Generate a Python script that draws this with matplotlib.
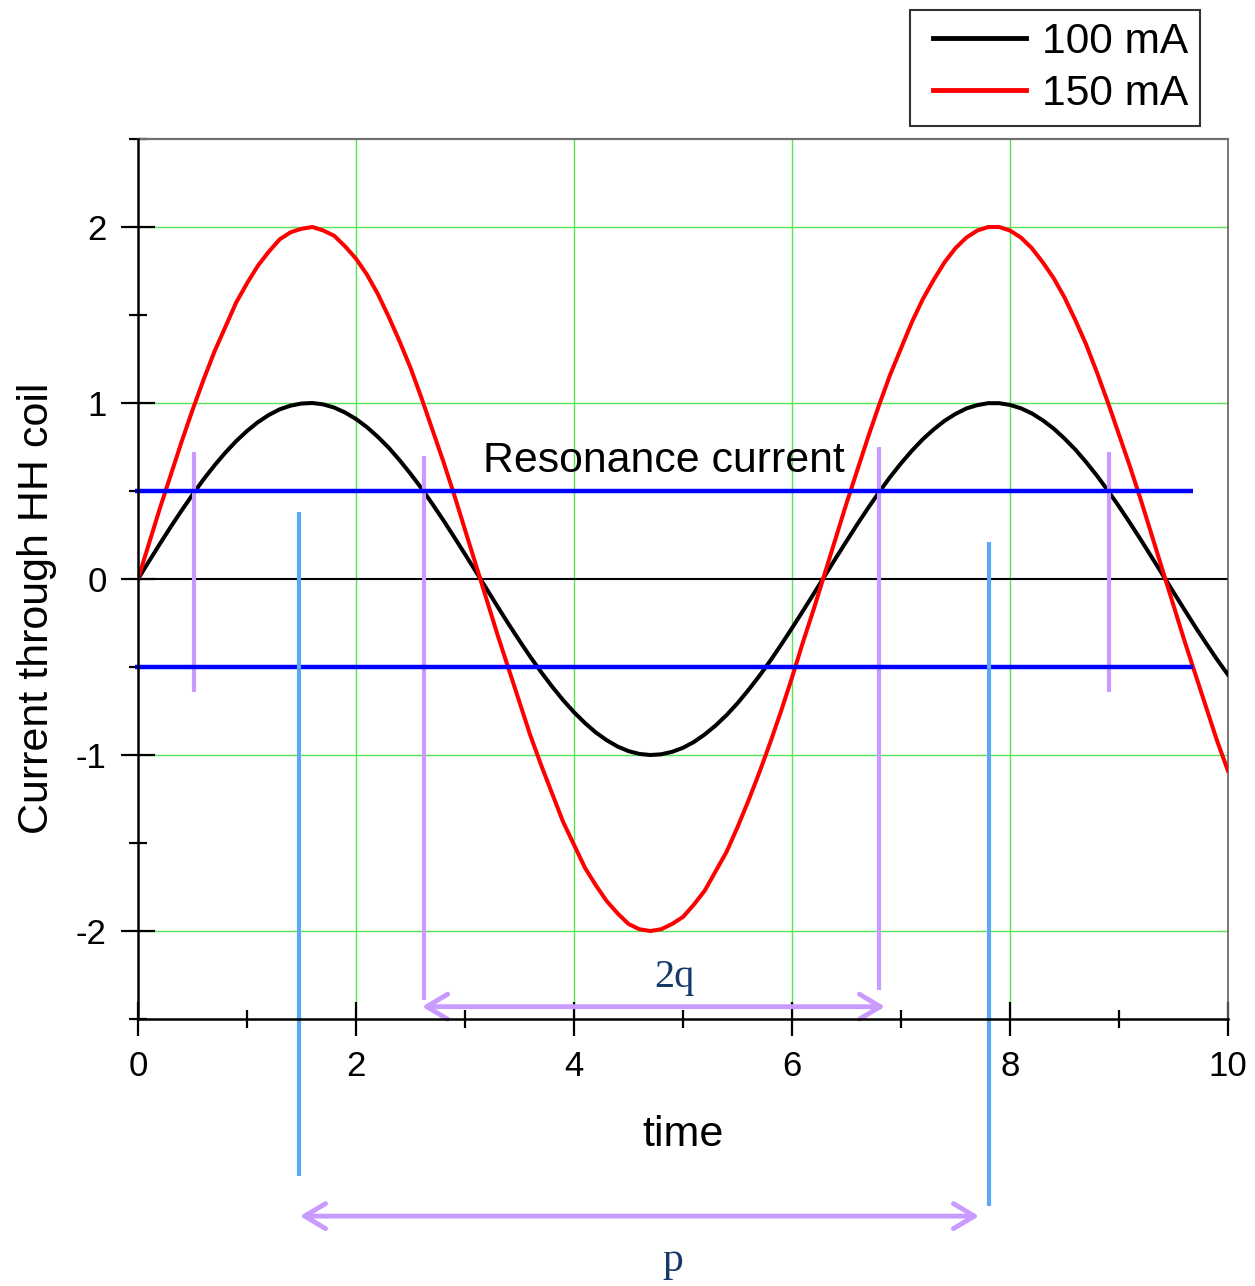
import matplotlib
matplotlib.use("Agg")
import matplotlib.pyplot as plt
from matplotlib.ticker import MultipleLocator
from matplotlib.legend_handler import HandlerLine2D

plt.rcParams['font.family'] = ['Liberation Sans', 'DejaVu Sans']

# time samples (0 .. 10, every 0.1) and read-off current values
t = [round(0.1 * k, 1) for k in range(101)]
i_100 = [0.000, 0.100, 0.199, 0.296, 0.389, 0.479, 0.565, 0.644, 0.717, 0.783,
         0.841, 0.891, 0.932, 0.964, 0.985, 0.997, 1.000, 0.992, 0.974, 0.946,
         0.909, 0.863, 0.808, 0.746, 0.675, 0.598, 0.516, 0.427, 0.335, 0.239,
         0.141, 0.042, -0.058, -0.158, -0.256, -0.351, -0.443, -0.530, -0.612, -0.688,
         -0.757, -0.818, -0.872, -0.916, -0.952, -0.978, -0.994, -1.000, -0.996, -0.982,
         -0.959, -0.926, -0.883, -0.832, -0.773, -0.706, -0.631, -0.551, -0.465, -0.374,
         -0.279, -0.182, -0.083, 0.017, 0.117, 0.215, 0.312, 0.405, 0.494, 0.579,
         0.657, 0.729, 0.794, 0.850, 0.899, 0.938, 0.969, 0.988, 0.999, 0.999,
         0.989, 0.970, 0.941, 0.902, 0.855, 0.798, 0.735, 0.663, 0.585, 0.501,
         0.412, 0.319, 0.223, 0.124, 0.025, -0.075, -0.174, -0.272, -0.366, -0.458,
         -0.544]
i_150 = [0.00, 0.20, 0.40, 0.59, 0.78, 0.96, 1.13, 1.29, 1.43, 1.57,
         1.68, 1.78, 1.86, 1.93, 1.97, 1.99, 2.00, 1.98, 1.95, 1.89,
         1.82, 1.73, 1.62, 1.49, 1.35, 1.20, 1.03, 0.85, 0.67, 0.48,
         0.28, 0.08, -0.12, -0.32, -0.51, -0.70, -0.89, -1.06, -1.22, -1.38,
         -1.51, -1.64, -1.74, -1.83, -1.90, -1.96, -1.99, -2.00, -1.99, -1.96,
         -1.92, -1.85, -1.77, -1.66, -1.55, -1.41, -1.26, -1.10, -0.93, -0.75,
         -0.56, -0.36, -0.17, 0.03, 0.23, 0.43, 0.62, 0.81, 0.99, 1.16,
         1.31, 1.46, 1.59, 1.70, 1.80, 1.88, 1.94, 1.98, 2.00, 2.00,
         1.98, 1.94, 1.88, 1.80, 1.71, 1.60, 1.47, 1.33, 1.17, 1.00,
         0.82, 0.64, 0.45, 0.25, 0.05, -0.15, -0.35, -0.54, -0.73, -0.92,
         -1.09]
labels = ["100 mA", "150 mA"]

# resonance current levels
res_level = [0.5, -0.5]
res_end = 9.68

# purple markers: x, top, bottom
mark_x = [0.514, 2.624, 6.798, 8.908]
mark_top = [0.72, 0.70, 0.75, 0.72]
mark_bot = [-0.64, -2.39, -2.335, -0.64]

# light blue period markers
per_x = [1.477, 7.807]
per_top = [0.38, 0.21]
per_bot = [-3.39, -3.56]

q_span = (2.606, 6.853, -2.43)
p_span = (1.486, 7.716, -3.62)

purple = "#C99BFF"
lblue = "#5BA8F5"
dblue = "#15396B"
green = "#55E655"

fig = plt.figure(figsize=(12.55, 12.86), dpi=100)
ax = fig.add_axes([138/1255, 267/1286, 1090/1255, 880/1286])

ax.set_xlim(0, 10)
ax.set_ylim(-2.5, 2.5)

for gx in [2, 4, 6, 8]:
    ax.axvline(gx, color=green, lw=1, zorder=1)
for gy in [-2, -1, 1, 2]:
    ax.axhline(gy, color=green, lw=1, zorder=1)
ax.axhline(0, color="black", lw=1.5, zorder=2)

ax.plot(t, i_100, color="black", lw=2.9, label=labels[0], zorder=3)
ax.plot(t, i_150, color="red", lw=2.9, label=labels[1], zorder=3)

for x, y0, y1 in zip(mark_x, mark_top, mark_bot):
    ax.plot([x, x], [y0, y1], color=purple, lw=3, zorder=4, solid_capstyle="butt")

for lv in res_level:
    ax.plot([-0.03, res_end], [lv, lv], color="#0000FF", lw=3.2, zorder=5,
            clip_on=False, solid_capstyle="butt")

for x, y0, y1 in zip(per_x, per_top, per_bot):
    ax.plot([x, x], [y0, y1], color=lblue, lw=3, zorder=6, clip_on=False,
            solid_capstyle="butt")

for x0, x1, y in [q_span, p_span]:
    ax.annotate("", xy=(x1, y), xytext=(x0, y), annotation_clip=False,
                arrowprops=dict(arrowstyle="<->,head_length=0.75,head_width=0.45",
                                color=purple, lw=3.5, mutation_scale=20,
                                shrinkA=0, shrinkB=0))

ax.text(3.165, 0.61, "Resonance current", fontsize=30.8, ha="left", va="baseline")
ax.text(4.917, -2.318, "2q", fontsize=29, family=["Liberation Serif"],
        color=dblue, ha="center", va="baseline")
ax.text(4.908, -3.932, "p", fontsize=30, family=["Liberation Serif"],
        color=dblue, ha="center", va="baseline", clip_on=False)

ax.xaxis.set_major_locator(MultipleLocator(2))
ax.xaxis.set_minor_locator(MultipleLocator(1))
ax.yaxis.set_major_locator(MultipleLocator(1))
ax.yaxis.set_minor_locator(MultipleLocator(0.5))
ax.tick_params(which="major", direction="inout", length=25, width=1.6,
               labelsize=25)
ax.tick_params(axis="x", which="major", pad=10)
ax.tick_params(axis="y", which="major", pad=10)
ax.tick_params(which="minor", direction="inout", length=12.5, width=1.6)
ax.set_yticks([-2, -1, 0, 1, 2])
ax.set_yticklabels(["-2", "-1", "0", "1", "2"])

for s in ["left", "bottom"]:
    ax.spines[s].set_linewidth(1.8)
    ax.spines[s].set_zorder(7)
ax.spines["top"].set_color("#707070")
ax.spines["top"].set_linewidth(1.6)
ax.spines["right"].set_color("#606060")
ax.spines["right"].set_linewidth(1.2)

ax.set_xlabel("time", fontsize=31, labelpad=23)
ax.set_ylabel("Current through HH coil", fontsize=31)
ax.yaxis.set_label_coords(-0.0743, 0.467)

leg = ax.legend(loc="upper right", bbox_to_anchor=(1200/1255, 1 - 10/1286),
                bbox_transform=fig.transFigure, fontsize=30.6, frameon=True,
                fancybox=False, edgecolor="black", borderaxespad=0,
                handlelength=2.46, handletextpad=0.36, labelspacing=0.28,
                borderpad=0.28,
                handler_map={plt.Line2D: HandlerLine2D(xpad=0.25)})
leg.get_frame().set_linewidth(1.5)
for ln in leg.get_lines():
    ln.set_linewidth(3.5)

fig.savefig("out.png", dpi=100)
